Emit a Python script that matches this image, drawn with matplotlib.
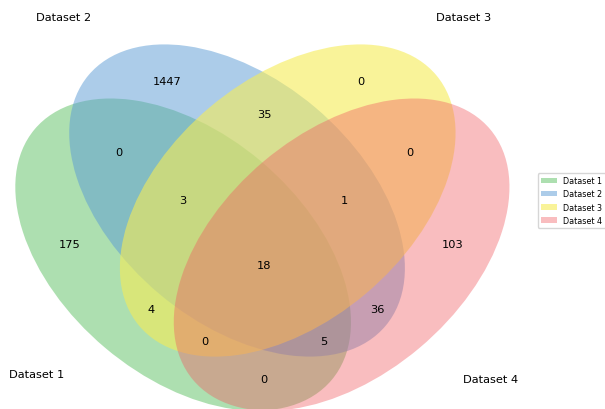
import matplotlib
matplotlib.use("Agg")
import matplotlib.pyplot as plt
from matplotlib.patches import Ellipse

# set names and region counts (key = membership in sets 1..4)
names = ["Dataset 1", "Dataset 2", "Dataset 3", "Dataset 4"]
region_keys = ["0001", "0010", "0011", "0100", "0101", "0110", "0111", "1000",
               "1001", "1010", "1011", "1100", "1101", "1110", "1111"]
region_counts = [103, 0, 0, 1447, 36, 35, 1, 175,
                 0, 4, 0, 0, 5, 3, 18]

colors = [(92/255, 192/255, 98/255, 0.5),
          (90/255, 155/255, 212/255, 0.5),
          (246/255, 236/255, 86/255, 0.6),
          (241/255, 90/255, 96/255, 0.4)]

# ellipse layout (x, y, w, h, angle) for 4-set venn
ellipses = [(0.350, 0.400, 0.72, 0.45, 140.0),
            (0.450, 0.500, 0.72, 0.45, 140.0),
            (0.544, 0.500, 0.72, 0.45, 40.0),
            (0.644, 0.400, 0.72, 0.45, 40.0)]

text_pos = {"0001": (0.85, 0.42), "0010": (0.68, 0.72), "0011": (0.77, 0.59),
            "0100": (0.32, 0.72), "0101": (0.71, 0.30), "0110": (0.50, 0.66),
            "0111": (0.65, 0.50), "1000": (0.14, 0.42), "1001": (0.50, 0.17),
            "1010": (0.29, 0.30), "1011": (0.39, 0.24), "1100": (0.23, 0.59),
            "1101": (0.61, 0.24), "1110": (0.35, 0.50), "1111": (0.50, 0.38)}

fig = plt.figure(figsize=(6.05, 4.10), dpi=100)
ax = fig.add_axes([-5.5/605, -62/410, 539/605, 541/410])
ax.set_xlim(0, 1)
ax.set_ylim(0, 1)
ax.set_axis_off()

for (x, y, w, h, a), c in zip(ellipses, colors):
    ax.add_patch(Ellipse(xy=(x, y), width=w, height=h, angle=a,
                         facecolor=c, edgecolor="none"))

for k, v in zip(region_keys, region_counts):
    x, y = text_pos[k]
    ax.text(x, y, str(v), ha="center", va="center", fontsize=8.2)

ax.text(0.13, 0.18, names[0], ha="right", va="center", fontsize=8.2)
ax.text(0.18, 0.83, names[1], ha="right", va="bottom", fontsize=8.2)
ax.text(0.82, 0.83, names[2], ha="left", va="bottom", fontsize=8.2)
ax.text(0.87, 0.18, names[3], ha="left", va="top", fontsize=8.2)

ax.legend(ax.patches, names, loc="center left", bbox_to_anchor=(1.0, 0.5),
          fancybox=True, fontsize=5.8)

fig.savefig("out.png", dpi=100)
